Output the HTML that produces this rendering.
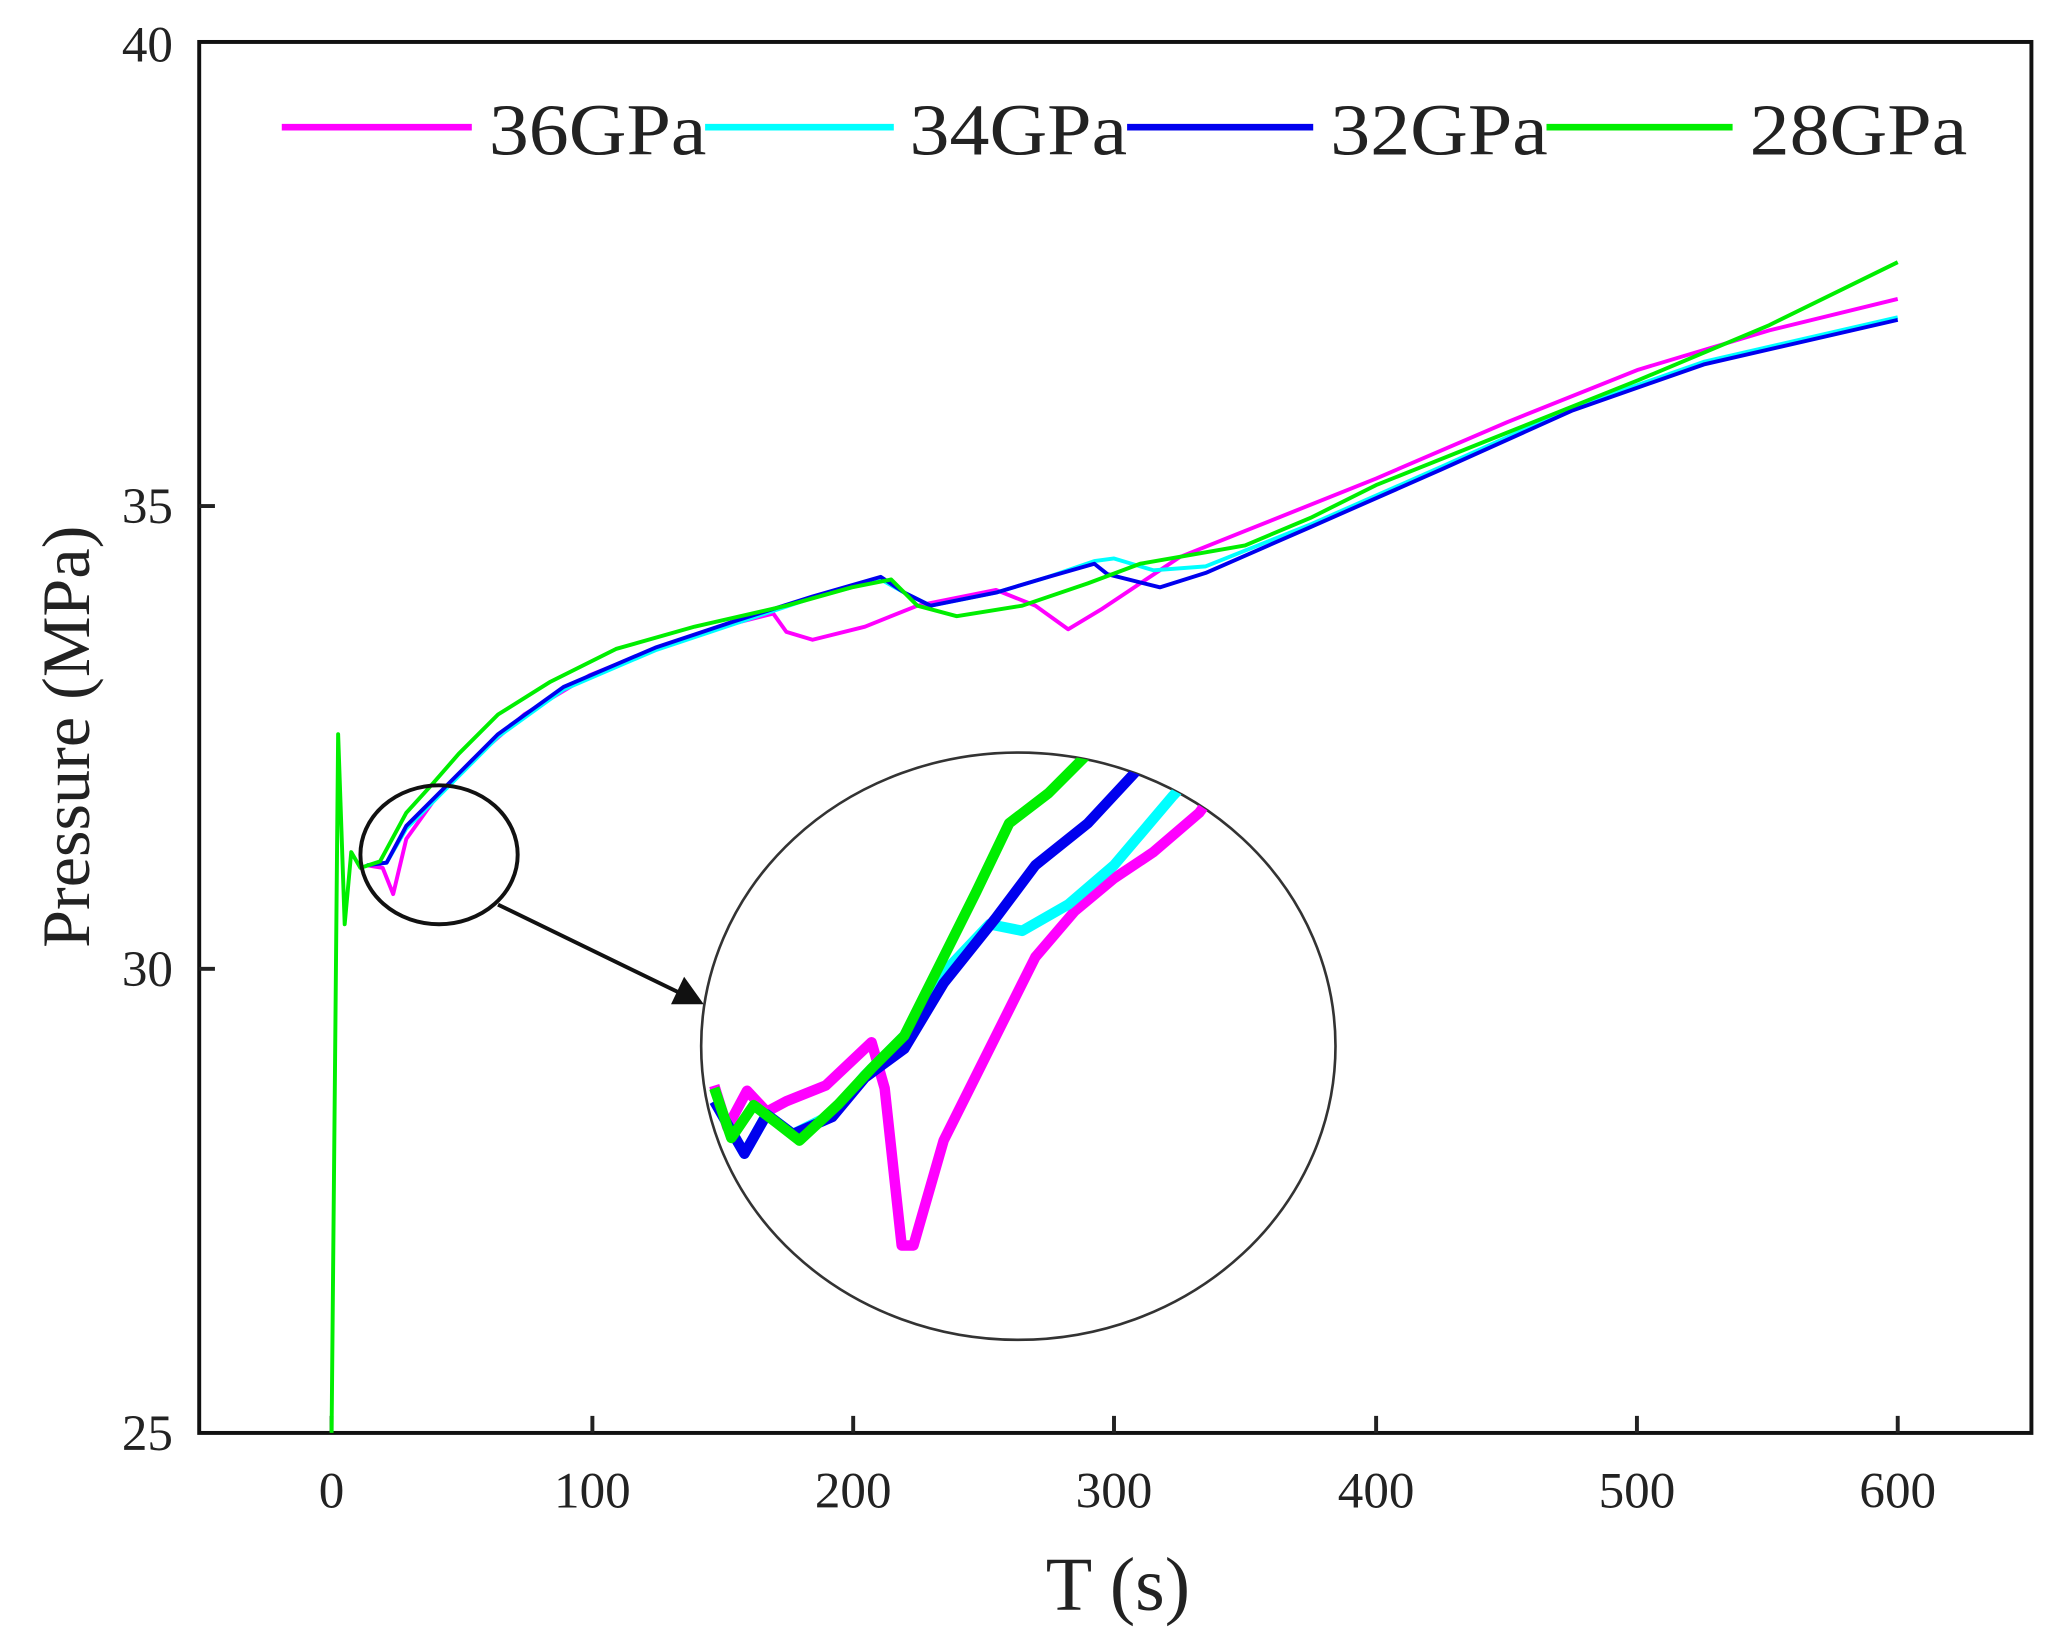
<!DOCTYPE html>
<html><head><meta charset="utf-8"><style>
html,body{margin:0;padding:0;background:#fff;}
svg{display:block;}
text{font-family:"Liberation Serif",serif;fill:#222;}
</style></head><body>
<svg width="2055" height="1644" viewBox="0 0 1568 1254" preserveAspectRatio="none" xmlns="http://www.w3.org/2000/svg">
<defs>
<clipPath id="zc"><ellipse cx="777" cy="798" rx="242" ry="224"/></clipPath>
<clipPath id="pc"><rect x="152" y="32" width="1398" height="1061"/></clipPath>
</defs>
<rect x="152" y="32" width="1398" height="1061" fill="none" stroke="#111" stroke-width="3"/>
<g stroke="#222" stroke-width="3">
<line x1="253" y1="1093" x2="253" y2="1080"/><line x1="452" y1="1093" x2="452" y2="1080"/>
<line x1="651" y1="1093" x2="651" y2="1080"/><line x1="850" y1="1093" x2="850" y2="1080"/>
<line x1="1050" y1="1093" x2="1050" y2="1080"/><line x1="1249" y1="1093" x2="1249" y2="1080"/>
<line x1="1448" y1="1093" x2="1448" y2="1080"/>
<line x1="152" y1="386" x2="164" y2="386"/><line x1="152" y1="739" x2="164" y2="739"/>
</g>
<g font-size="39" text-anchor="middle" style="fill:#333">
<text x="253" y="1150">0</text><text x="452" y="1150">100</text><text x="651" y="1150">200</text>
<text x="850" y="1150">300</text><text x="1050" y="1150">400</text><text x="1249" y="1150">500</text>
<text x="1448" y="1150">600</text>
</g>
<g font-size="39" text-anchor="end" style="fill:#333">
<text x="132" y="47">40</text><text x="132" y="399">35</text><text x="132" y="752">30</text><text x="132" y="1106">25</text>
</g>
<text x="853" y="1228" font-size="58" text-anchor="middle">T (s)</text>
<text transform="translate(68,562) rotate(-90)" font-size="52" text-anchor="middle">Pressure (MPa)</text>
<g stroke-width="5">
<line x1="215" y1="97" x2="360" y2="97" stroke="#ff00ff"/>
<line x1="538" y1="97" x2="682" y2="97" stroke="#00ffff"/>
<line x1="860" y1="97" x2="1002" y2="97" stroke="#0000ee"/>
<line x1="1180" y1="97" x2="1322" y2="97" stroke="#00ee00"/>
</g>
<g font-size="56">
<text x="373" y="118" textLength="166" lengthAdjust="spacingAndGlyphs">36GPa</text>
<text x="694" y="118" textLength="166" lengthAdjust="spacingAndGlyphs">34GPa</text>
<text x="1015" y="118" textLength="166" lengthAdjust="spacingAndGlyphs">32GPa</text>
<text x="1335" y="118" textLength="166" lengthAdjust="spacingAndGlyphs">28GPa</text>
</g>
<g fill="none" stroke-width="3" stroke-linejoin="round" clip-path="url(#pc)">
<polyline stroke="#ff00ff" points="280,660 292,662 300,682 310,640 330,612 360,580 400,545 450,515 500,495 550,478 590,468 600,482 620,488 660,478 700,462 760,450 790,462 815,480 840,465 870,445 900,425 950,405 1050,365 1150,322 1250,282 1350,252 1448,228"/>
<polyline stroke="#00ffff" points="280,660 295,658 310,632 340,602 380,562 430,526 500,496 560,476 620,456 672,442 690,452 710,462 760,452 800,440 835,428 850,426 880,435 920,432 1000,400 1100,356 1200,311 1300,276 1448,242"/>
<polyline stroke="#0000ee" points="280,660 295,658 310,630 340,600 380,560 430,524 500,494 560,474 620,455 672,440 690,452 710,462 760,452 800,440 835,430 845,438 885,448 920,437 1000,402 1100,358 1200,313 1300,278 1448,244"/>
<polyline stroke="#00ee00" points="253,1093 258,560 263,705 268,650 275,662 290,657 310,620 330,598 350,575 380,545 420,520 470,495 530,478 600,462 650,448 680,442 700,462 730,470 780,462 830,445 870,430 950,416 1000,395 1050,370 1150,330 1250,290 1350,248 1448,200"/>
</g>
<ellipse cx="335" cy="652" rx="60" ry="53" fill="none" stroke="#111" stroke-width="3"/>
<line x1="380" y1="690" x2="520" y2="758" stroke="#111" stroke-width="3"/>
<polygon points="537,766 512,766 522,745" fill="#111"/>
<ellipse cx="777" cy="798" rx="242" ry="224" fill="none" stroke="#333" stroke-width="2"/>
<g fill="none" stroke-width="8" stroke-linejoin="round" clip-path="url(#zc)">
<polyline stroke="#ff00ff" points="545,828 555,860 570,832 585,848 600,840 630,828 665,795 675,830 688,950 697,950 720,870 745,820 765,780 790,730 820,695 850,670 880,650 915,620 930,600"/>
<polyline stroke="#00ffff" points="545,840 568,880 585,850 605,865 635,850 660,820 690,790 720,742 755,705 780,710 815,690 850,660 895,607 920,580"/>
<polyline stroke="#0000ee" points="545,840 568,880 585,850 605,865 635,852 660,822 690,800 720,750 760,700 790,660 830,628 870,585"/>
<polyline stroke="#00ee00" points="545,830 558,868 575,843 592,856 610,870 640,842 665,815 690,790 720,730 745,680 770,628 800,605 835,570"/>
</g>
</svg>
</body></html>
